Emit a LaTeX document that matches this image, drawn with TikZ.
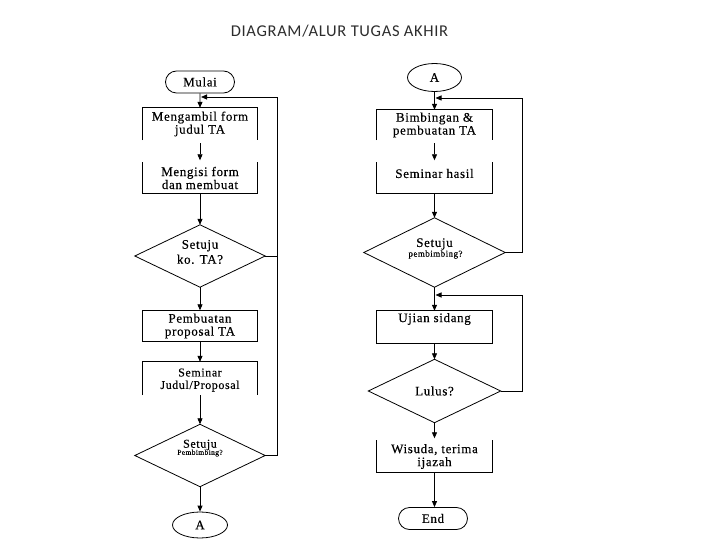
\documentclass[tikz,border=0pt]{standalone}
\usepackage{fontspec}
\setmainfont{Liberation Serif}
\newfontfamily\titlefont[LetterSpace=4]{Carlito}
\newfontfamily\boxfont[LetterSpace=5,FakeBold=0.3]{Liberation Serif}
\usetikzlibrary{arrows.meta,shapes.geometric,shapes.misc}
\definecolor{titlegray}{RGB}{45,45,45}
\tikzset{
  ln/.style={line width=0.8pt, black},
  arr/.style={ln, -{Triangle[length=6pt,width=5pt]}},
  boxn/.style={minimum width=115pt, minimum height=31pt, inner sep=0pt, align=center,
    font=\boxfont\fontsize{13}{13}\selectfont},
  dia/.style={minimum width=130pt, minimum height=62pt, inner sep=0pt},
  txt/.style={inner sep=0pt, align=center, font=\boxfont\fontsize{13}{15}\selectfont},
  smalltxt/.style={inner sep=0pt, font=\boxfont\fontsize{9}{9}\selectfont},
  term/.style={draw, line width=0.8pt, rounded rectangle, minimum width=69pt, minimum height=22pt,
    inner sep=0pt, font=\boxfont\fontsize{13}{13}\selectfont},
  conn/.style={draw, line width=0.8pt, ellipse, minimum width=55pt, minimum height=26pt,
    inner sep=0pt, font=\boxfont\fontsize{13}{13}\selectfont}
}
\begin{document}
\begin{tikzpicture}[x=1pt,y=-1pt]
\useasboundingbox[fill=white] (0,0) rectangle (720,540);
\node[anchor=base, inner sep=0pt, text=titlegray, font=\titlefont\fontsize{16.5}{16.5}\selectfont]
  (title) at (339.5,36.7) {DIAGRAM/ALUR TUGAS AKHIR};

% ---------------- left column ----------------
\node[term] (mulai) at (200,82) {Mulai};
\node[boxn, minimum height=32pt] (b1) at (200,124) {Mengambil form\\judul TA};
\draw[ln] (b1.south west) |- (b1.north east) -- (b1.south east);
\node[boxn] (b2) at (200,178) {Mengisi form\\dan membuat};
\draw[ln] (b2.north west) |- (b2.south east) -- (b2.north east);
\node[dia] (d1) at (200,256) {};
\draw[ln] (d1.north) -- (d1.east) -- (d1.south) -- (d1.west) -- cycle;
\node[txt] (t1) at (200,252) {Setuju\\ko. TA?};
\node[boxn] (b3) at (200,326) {Pembuatan\\proposal TA};
\draw[ln] (b3.south west) rectangle (b3.north east);
\node[boxn, minimum height=33pt] (b4) at (200,378.5) {};
\draw[ln] (b4.south west) |- (b4.north east) -- (b4.south east);
\node[txt, font=\boxfont\fontsize{12}{12.5}\selectfont] (t4) at (200,380) {Seminar\\Judul/Proposal};
\node[dia] (d2) at (200,455.5) {};
\draw[ln] (d2.north) -- (d2.east) -- (d2.south) -- (d2.west) -- cycle;
\node[txt, font=\boxfont\fontsize{12}{12}\selectfont] (t2a) at (200,445) {Setuju};
\node[smalltxt, font=\boxfont\fontsize{7.5}{7.5}\selectfont] (t2b) at (200,453) {Pembimbing?};
\node[conn] (a1) at (200,525) {A};

\coordinate (c1) at (277,97);
\draw[arr] (mulai) -- (b1);
\draw[arr, shorten <=3pt, shorten >=2pt] (b1.south) -- (b2.north);
\draw[arr] (b2.south) -- (d1.north);
\draw[arr] (d1.south) -- (b3.north);
\draw[arr] (b3.south) -- (b4.north);
\draw[arr] (b4.south) -- (d2.north);
\draw[arr] (d2.south) -- (a1);
\draw[ln] (d1.east) -- (d1.east -| c1);
\draw[arr, shorten >=1pt] (d2.east) -| (c1) -- (c1 -| b1);

% ---------------- right column ----------------
\node[conn, minimum width=54pt, minimum height=28pt] (a2) at (434.5,77.5) {A};
\node[boxn, minimum height=30pt] (b5) at (434.5,125) {Bimbingan \&\\pembuatan TA};
\draw[ln] (b5.south west) |- (b5.north east) -- (b5.south east);
\node[boxn] (b6) at (434.5,178) {};
\draw[ln] (b6.north west) |- (b6.south east) -- (b6.north east);
\node[txt] (t6) at (434.5,173.5) {Seminar hasil};
\node[dia, minimum width=141pt, minimum height=69pt] (d3) at (434.5,252.5) {};
\draw[ln] (d3.north) -- (d3.east) -- (d3.south) -- (d3.west) -- cycle;
\node[txt] (t3a) at (434.5,244) {Setuju};
\node[smalltxt] (t3b) at (435.5,254.5) {pembimbing?};
\node[boxn, minimum height=32pt] (b7) at (434.5,327) {};
\draw[ln] (b7.south west) rectangle (b7.north east);
\node[txt] (t7) at (434.5,319) {Ujian sidang};
\node[dia, minimum width=132pt, minimum height=63pt] (d4) at (434.5,391) {};
\draw[ln] (d4.north) -- (d4.east) -- (d4.south) -- (d4.west) -- cycle;
\node[txt] (t8) at (434.5,391) {Lulus?};
\node[boxn, minimum height=32pt] (b8) at (434.5,456.5) {Wisuda, terima\\ijazah};
\draw[ln] (b8.north west) |- (b8.south east) -- (b8.north east);
\node[term] (endn) at (433,518.5) {End};

\coordinate (c2) at (522,98);
\coordinate (c3) at (522,295);
\draw[arr] (a2) -- (b5.north);
\draw[arr, shorten <=3pt, shorten >=2pt] (b5.south) -- (b6.north);
\draw[arr] (b6.south) -- (d3.north);
\draw[arr] (d3.south) -- (b7.north);
\draw[arr] (b7.south) -- (d4.north);
\draw[arr, shorten >=2pt] (d4.south) -- (b8.north);
\draw[arr] (b8.south) -- (b8.south |- endn.north);
\draw[arr, shorten >=1pt] (d3.east) -| (c2) -- (c2 -| b5);
\draw[arr, shorten >=1pt] (d4.east) -| (c3) -- (c3 -| b7);
\end{tikzpicture}
\end{document}
